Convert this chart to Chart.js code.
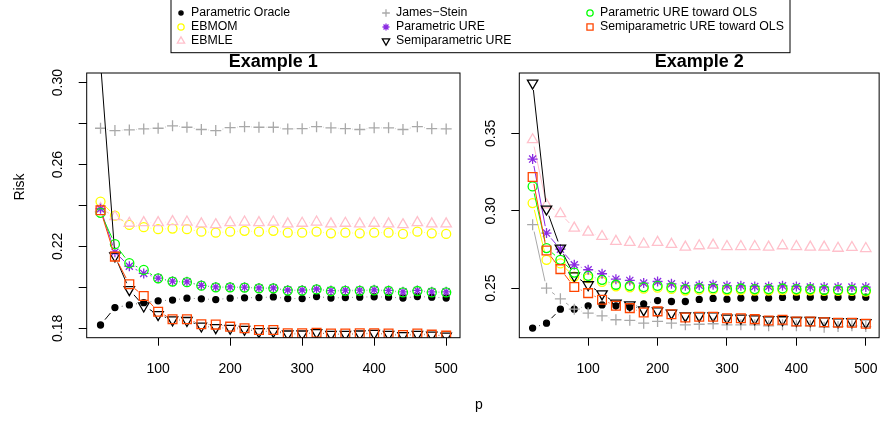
<!DOCTYPE html>
<html>
<head>
<meta charset="utf-8">
<script src="https://cdn.jsdelivr.net/npm/chart.js@4.4.1/dist/chart.umd.min.js"></script>
<style>
  html, body { margin: 0; padding: 0; background: #fff; }
  #wrap { position: relative; width: 893px; height: 421px; overflow: hidden; }
  #wrap canvas { position: absolute; top: 0; }
</style>
</head>
<body>
<div id="wrap">
  <canvas id="ex1" width="893" height="421" style="left:0"></canvas>
  <canvas id="ex2" width="423" height="421" style="left:470px"></canvas>
</div>
<script>
// 📋 Data
const pValues = [20, 40, 60, 80, 100, 120, 140, 160, 180, 200, 220, 240, 260, 280, 300, 320, 340, 360, 380, 400, 420, 440, 460, 480, 500];
const xTicks = [100, 200, 300, 400, 500];

const seriesNames = [
  "Parametric Oracle", "EBMOM", "EBMLE", "James\u2212Stein",
  "Parametric URE", "Semiparametric URE", "Parametric URE toward OLS", "Semiparametric URE toward OLS"
];

// Example 1
const oracle1   = [0.1816, 0.1901, 0.1914, 0.1925, 0.1934, 0.1938, 0.1947, 0.1944, 0.1940, 0.1947, 0.1949, 0.1950, 0.1953, 0.1945, 0.1945, 0.1955, 0.1948, 0.1950, 0.1952, 0.1954, 0.1952, 0.1948, 0.1955, 0.1952, 0.1948];
const ebmom1    = [0.2419, 0.2350, 0.2305, 0.2294, 0.2284, 0.2287, 0.2284, 0.2272, 0.2267, 0.2272, 0.2276, 0.2272, 0.2276, 0.2267, 0.2267, 0.2272, 0.2264, 0.2267, 0.2264, 0.2267, 0.2267, 0.2261, 0.2272, 0.2264, 0.2261];
const ebmle1    = [0.2385, 0.2345, 0.2313, 0.2316, 0.2316, 0.2321, 0.2319, 0.2310, 0.2306, 0.2316, 0.2319, 0.2316, 0.2319, 0.2310, 0.2313, 0.2319, 0.2310, 0.2313, 0.2310, 0.2313, 0.2310, 0.2306, 0.2316, 0.2310, 0.2310];
const js1       = [0.2777, 0.2766, 0.2769, 0.2774, 0.2777, 0.2789, 0.2782, 0.2771, 0.2766, 0.2780, 0.2785, 0.2782, 0.2782, 0.2774, 0.2775, 0.2785, 0.2779, 0.2775, 0.2771, 0.2779, 0.2779, 0.2771, 0.2785, 0.2775, 0.2774];
const parUre1   = [0.2384, 0.2172, 0.2103, 0.2068, 0.2045, 0.2030, 0.2027, 0.2010, 0.2002, 0.2002, 0.2001, 0.1997, 0.1997, 0.1987, 0.1987, 0.1992, 0.1984, 0.1986, 0.1986, 0.1988, 0.1985, 0.1978, 0.1985, 0.1978, 0.1978];
const semiUre1  = [0.3100, 0.2153, 0.1989, 0.1909, 0.1867, 0.1841, 0.1838, 0.1811, 0.1803, 0.1800, 0.1795, 0.1784, 0.1785, 0.1772, 0.1772, 0.1779, 0.1770, 0.1770, 0.1772, 0.1775, 0.1770, 0.1764, 0.1770, 0.1767, 0.1762];
const parOls1   = [0.2364, 0.2211, 0.2118, 0.2085, 0.2044, 0.2028, 0.2025, 0.2008, 0.2000, 0.2000, 0.1999, 0.1995, 0.1995, 0.1984, 0.1984, 0.1990, 0.1981, 0.1983, 0.1983, 0.1985, 0.1982, 0.1975, 0.1982, 0.1975, 0.1975];
const semiOls1  = [0.2377, 0.2150, 0.2015, 0.1958, 0.1881, 0.1844, 0.1844, 0.1820, 0.1818, 0.1808, 0.1800, 0.1792, 0.1792, 0.1776, 0.1776, 0.1778, 0.1774, 0.1774, 0.1776, 0.1776, 0.1774, 0.1767, 0.1774, 0.1769, 0.1764];

// Example 2
const oracle2   = [0.2242, 0.2274, 0.2364, 0.2364, 0.2386, 0.2392, 0.2386, 0.2378, 0.2399, 0.2420, 0.2414, 0.2414, 0.2427, 0.2434, 0.2429, 0.2436, 0.2436, 0.2436, 0.2440, 0.2442, 0.2442, 0.2442, 0.2442, 0.2442, 0.2442];
const ebmom2    = [0.3050, 0.2683, 0.2660, 0.2575, 0.2565, 0.2540, 0.2512, 0.2505, 0.2497, 0.2503, 0.2495, 0.2485, 0.2490, 0.2490, 0.2485, 0.2488, 0.2485, 0.2485, 0.2488, 0.2485, 0.2485, 0.2482, 0.2482, 0.2482, 0.2478];
const ebmle2    = [0.3459, 0.3039, 0.2981, 0.2888, 0.2862, 0.2834, 0.2802, 0.2796, 0.2785, 0.2796, 0.2783, 0.2765, 0.2774, 0.2778, 0.2769, 0.2769, 0.2769, 0.2765, 0.2774, 0.2769, 0.2765, 0.2765, 0.2758, 0.2763, 0.2756];
const js2       = [0.2910, 0.2500, 0.2431, 0.2364, 0.2339, 0.2321, 0.2296, 0.2292, 0.2274, 0.2285, 0.2274, 0.2263, 0.2267, 0.2270, 0.2263, 0.2263, 0.2263, 0.2257, 0.2263, 0.2257, 0.2257, 0.2248, 0.2252, 0.2257, 0.2252];
const parUre2   = [0.3334, 0.2856, 0.2752, 0.2651, 0.2619, 0.2593, 0.2558, 0.2550, 0.2533, 0.2543, 0.2528, 0.2515, 0.2519, 0.2522, 0.2515, 0.2515, 0.2511, 0.2511, 0.2515, 0.2511, 0.2507, 0.2507, 0.2507, 0.2507, 0.2507];
const semiUre2  = [0.3825, 0.3011, 0.2759, 0.2580, 0.2522, 0.2463, 0.2403, 0.2392, 0.2360, 0.2353, 0.2339, 0.2321, 0.2321, 0.2321, 0.2306, 0.2306, 0.2302, 0.2296, 0.2296, 0.2291, 0.2291, 0.2289, 0.2283, 0.2283, 0.2278];
const parOls2   = [0.3157, 0.2759, 0.2683, 0.2601, 0.2580, 0.2554, 0.2522, 0.2515, 0.2507, 0.2515, 0.2505, 0.2494, 0.2500, 0.2500, 0.2494, 0.2498, 0.2494, 0.2494, 0.2498, 0.2494, 0.2494, 0.2489, 0.2489, 0.2489, 0.2485];
const semiOls2  = [0.3218, 0.2743, 0.2623, 0.2507, 0.2468, 0.2425, 0.2386, 0.2371, 0.2343, 0.2350, 0.2332, 0.2311, 0.2315, 0.2315, 0.2306, 0.2306, 0.2300, 0.2291, 0.2296, 0.2285, 0.2285, 0.2280, 0.2276, 0.2276, 0.2270];

const yTicks1 = [0.18, 0.20, 0.22, 0.24, 0.26, 0.28, 0.30];
const yLabels1 = [0.18, 0.22, 0.26, 0.30];
const yTicks2 = [0.25, 0.30, 0.35];
const yLabels2 = [0.25, 0.30, 0.35];


// 🎨 Marker look (R pch style)
const markers = [
  { color: "#000000", style: "circle",   radius: 3,   fill: true },
  { color: "#FFFF00", style: "circle",   radius: 4.5 },
  { color: "#FFC0CB", style: "triangle", radius: 6 },
  { color: "#A9A9A9", style: "cross",    radius: 5.5 },
  { color: "#8A2BE2", style: "star",     radius: 5 },
  { color: "#000000", style: "triangle", radius: 6, rotation: 180 },
  { color: "#00FF00", style: "circle",   radius: 4.5 },
  { color: "#FF4500", style: "rect",     radius: 6.2 }
];

const FONT = "'Liberation Sans', Arial, Helvetica, sans-serif";
Chart.defaults.font.family = FONT;
Chart.defaults.color = "#000";
const GAP = 7;


// 〰️ type="b" lines: segments with gaps around points
const gapLines = {
  id: "gapLines",
  beforeDatasetDraw(chart, args) {
    const pts = args.meta.data;
    const area = chart.chartArea;
    const ctx = chart.ctx;
    ctx.save();
    ctx.beginPath();
    ctx.rect(area.left, area.top, area.right - area.left, area.bottom - area.top);
    ctx.clip();
    ctx.strokeStyle = chart.data.datasets[args.index].borderColor;
    ctx.lineWidth = 1;
    ctx.beginPath();
    for (let i = 1; i < pts.length; i++) {
      const a = pts[i - 1], b = pts[i];
      const dx = b.x - a.x, dy = b.y - a.y;
      const len = Math.hypot(dx, dy);
      if (len <= 2 * GAP) continue;
      const ux = dx / len, uy = dy / len;
      ctx.moveTo(a.x + ux * GAP, a.y + uy * GAP);
      ctx.lineTo(b.x - ux * GAP, b.y - uy * GAP);
    }
    ctx.stroke();
    ctx.restore();
  }
};

// 🖼️ Box and rotated y labels
const frame = {
  id: "frame",
  afterDraw(chart, args, opts) {
    const ctx = chart.ctx;
    const a = chart.chartArea;
    const y = chart.scales.y;
    ctx.save();
    ctx.strokeStyle = "#000";
    ctx.lineWidth = 1;
    ctx.strokeRect(a.left, a.top, a.right - a.left, a.bottom - a.top);
    ctx.fillStyle = "#000";
    ctx.font = "14px " + FONT;
    ctx.textAlign = "center";
    ctx.textBaseline = "alphabetic";
    opts.labels.forEach(v => {
      ctx.save();
      ctx.translate(a.left - 24.5, y.getPixelForValue(v));
      ctx.rotate(-Math.PI / 2);
      ctx.fillText(v.toFixed(2), 0, 0);
      ctx.restore();
    });
    ctx.restore();
  }
};

// 🏷️ Legend and shared axis titles (on the first canvas)
const figureText = {
  id: "figureText",
  afterDraw(chart) {
    const ctx = chart.ctx;
    ctx.save();
    ctx.fillStyle = "#fff";
    ctx.fillRect(171, -2, 619, 54.7);
    ctx.strokeStyle = "#000";
    ctx.lineWidth = 1;
    ctx.strokeRect(171, -2, 619, 54.7);

    const cols = [[0, 1, 2], [3, 4, 5], [6, 7]];
    const colX = [181, 386, 590];
    const rowY = [13, 27, 41];
    ctx.font = "12.3px " + FONT;
    ctx.textBaseline = "middle";
    ctx.textAlign = "left";
    cols.forEach((col, c) => {
      col.forEach((si, r) => {
        const m = markers[si];
        ctx.strokeStyle = m.color;
        ctx.fillStyle = m.fill ? m.color : "rgba(0,0,0,0)";
        ctx.lineWidth = 1.3;
        Chart.helpers.drawPoint(ctx, {
          pointStyle: m.style, radius: m.radius * 0.7,
          rotation: m.rotation || 0, borderWidth: 1.3
        }, colX[c], rowY[r]);
        ctx.fillStyle = "#000";
        ctx.fillText(seriesNames[si], colX[c] + 10, rowY[r]);
      });
    });

    ctx.font = "14px " + FONT;
    ctx.fillStyle = "#000";
    ctx.textAlign = "center";
    ctx.textBaseline = "alphabetic";
    ctx.fillText("p", 479, 409);
    ctx.save();
    ctx.translate(24, 187);
    ctx.rotate(-Math.PI / 2);
    ctx.fillText("Risk", 0, 0);
    ctx.restore();
    ctx.restore();
  }
};


// 📈 Chart builder
function makeDatasets(valueLists) {
  return valueLists.map((vals, i) => {
    const m = markers[i];
    return {
      label: seriesNames[i],
      data: pValues.map((p, k) => ({ x: p, y: vals[k] })),
      showLine: false,
      borderColor: m.color,
      pointStyle: m.style,
      pointRadius: m.radius,
      pointRotation: m.rotation || 0,
      pointBorderColor: m.color,
      pointBorderWidth: 1.3,
      pointBackgroundColor: m.fill ? m.color : "rgba(0,0,0,0)",
      clip: 0,
      order: valueLists.length - i
    };
  });
}

function makeChart(id, title, valueLists, yMin, yMax, yTicks, yLabels, padding, extraPlugins) {
  return new Chart(document.getElementById(id), {
    type: "line",
    data: { datasets: makeDatasets(valueLists) },
    options: {
      responsive: false,
      animation: false,
      events: [],
      layout: { padding: padding },
      plugins: {
        legend: { display: false },
        tooltip: { enabled: false },
        title: {
          display: true, text: title, fullSize: false,
          font: { size: 18, weight: "bold" }, color: "#000",
          padding: { top: 0, bottom: 0 }
        },
        frame: { labels: yLabels }
      },
      scales: {
        x: {
          type: "linear", min: 0.8, max: 519.2,
          afterBuildTicks: s => { s.ticks = xTicks.map(v => ({ value: v })); },
          afterFit: s => { s.height = 83.3; },
          ticks: { font: { size: 14 }, color: "#000", padding: 15, maxRotation: 0, autoSkip: false },
          grid: { drawOnChartArea: false, tickLength: 8, color: "#000", lineWidth: 1 },
          border: { display: false }
        },
        y: {
          type: "linear", min: yMin, max: yMax,
          afterBuildTicks: s => { s.ticks = yTicks.map(v => ({ value: v })); },
          afterFit: s => { s.width = 40; },
          ticks: { display: false },
          grid: { drawOnChartArea: false, tickLength: 8, color: "#000", lineWidth: 1 },
          border: { display: false }
        }
      }
    },
    plugins: [gapLines, frame].concat(extraPlugins)
  });
}

makeChart("ex1", "Example 1",
  [oracle1, ebmom1, ebmle1, js1, parUre1, semiUre1, parOls1, semiOls1],
  0.1754, 0.3047, yTicks1, yLabels1,
  { left: 46.7, top: 51.4, right: 433, bottom: 0 }, [figureText]);

makeChart("ex2", "Example 2",
  [oracle2, ebmom2, ebmle2, js2, parUre2, semiUre2, parOls2, semiOls2],
  0.2180, 0.3890, yTicks2, yLabels2,
  { left: 9.3, top: 51.4, right: 1, bottom: 0 }, []);
</script>
</body>
</html>
